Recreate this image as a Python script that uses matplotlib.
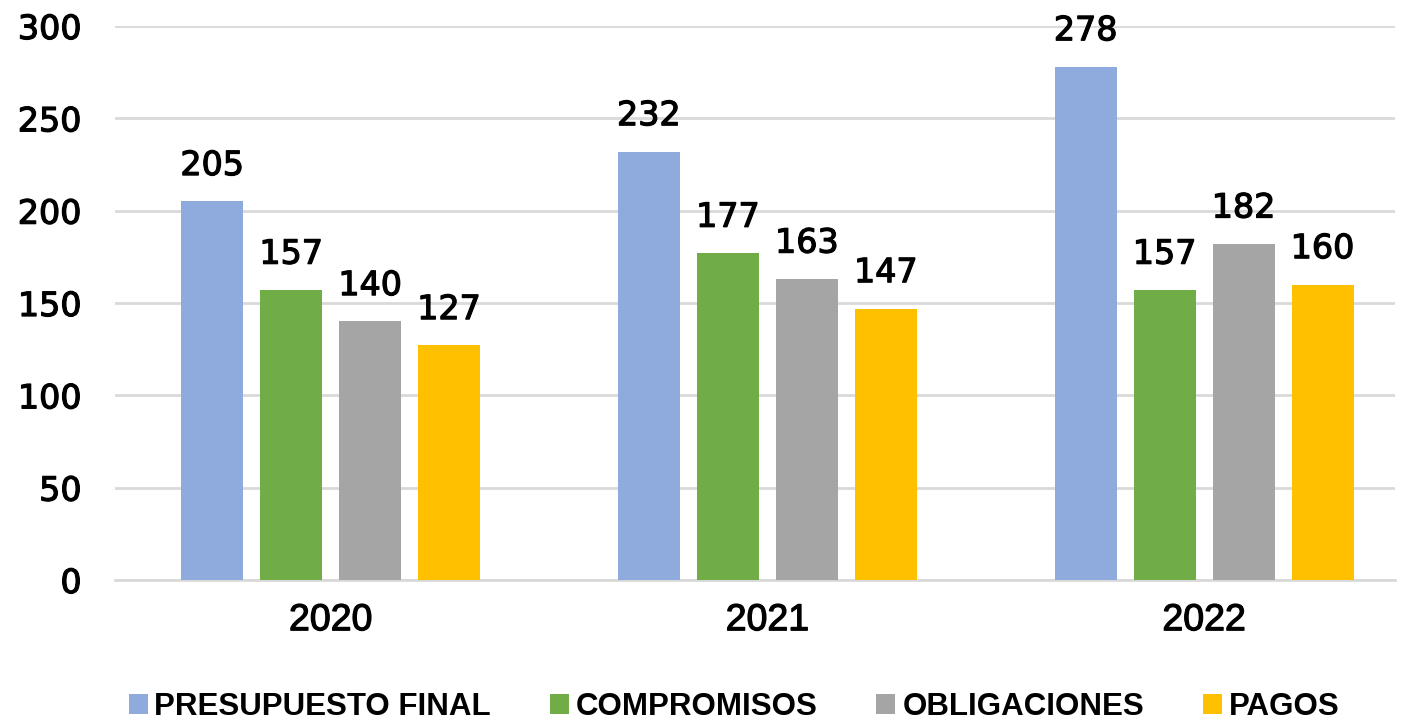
import matplotlib
matplotlib.use("Agg")
import matplotlib.pyplot as plt
import matplotlib.patheffects as pe
import numpy as np

years = ["2020", "2021", "2022"]
series_names = ["PRESUPUESTO FINAL", "COMPROMISOS", "OBLIGACIONES", "PAGOS"]
presupuesto = [205, 232, 278]
compromisos = [157, 177, 157]
obligaciones = [140, 163, 182]
pagos = [127, 147, 160]
colors = ["#8FAADC", "#70AD47", "#A5A5A5", "#FFC000"]
yticks = [0, 50, 100, 150, 200, 250, 300]

plt.rcParams['font.family'] = ['Liberation Sans', 'DejaVu Sans']
thick = [pe.withStroke(linewidth=0.9, foreground='black')]

fig = plt.figure(figsize=(14.06, 7.21), dpi=100)
ax = fig.add_axes([115/1406, 1-580/721, (1395-115)/1406, (580-26)/721])

x = np.arange(len(years))
step = 79/437
width = 62/437
data = [presupuesto, compromisos, obligaciones, pagos]
handles = []
for i, (vals, name, c) in enumerate(zip(data, series_names, colors)):
    off = (i - 1.5) * step
    b = ax.bar(x + off, vals, width, color=c, label=name, zorder=3)
    handles.append(b)
    for xi, v in zip(x + off, vals):
        ax.annotate(str(v), (xi, v), xytext=(0, 19), textcoords='offset points',
                    ha='center', va='baseline', fontsize=24, family='DejaVu Sans',
                    color='#000000', path_effects=thick)

ax.set_ylim(0, 300)
ax.set_xlim(-0.494, 2.437)
ax.set_yticks(yticks)
ax.set_yticklabels([str(t) for t in yticks], fontsize=24, family='DejaVu Sans',
                   path_effects=thick)
ax.set_xticks(x)
ax.set_xticklabels(years, fontsize=27, path_effects=thick)
ax.tick_params(axis='y', length=0, pad=24)
ax.tick_params(axis='x', length=0, pad=16)
ax.grid(axis='y', color='#D9D9D9', linewidth=2, zorder=0)
for s in ['top', 'right', 'left']:
    ax.spines[s].set_visible(False)
ax.spines['bottom'].set_color('#D9D9D9')
ax.spines['bottom'].set_linewidth(2)

leg = fig.legend(handles=handles, labels=series_names, loc='center',
                 bbox_to_anchor=(734/1406, 1-707/721), ncol=4, frameon=False,
                 prop={'size': 22.5, 'weight': 'bold'}, handlelength=0.61,
                 handleheight=0.61, handletextpad=0.22, columnspacing=1.88)

fig.savefig("out.png", dpi=100, facecolor='white')
